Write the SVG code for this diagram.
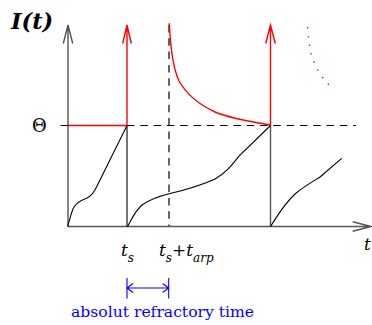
<svg xmlns="http://www.w3.org/2000/svg" width="372" height="325" viewBox="0 0 372 325">
<style>
.ax{stroke:#555;stroke-width:1.4;fill:none}
.blk{stroke:#000;stroke-width:1.1;fill:none}
.red{stroke:#f00;stroke-width:1.4;fill:none}
.dash{stroke:#000;stroke-width:1.2;fill:none;stroke-dasharray:7.5 5.8}
.blue{stroke:#00f;stroke-width:1.1;fill:none}
</style>
<rect width="372" height="325" fill="#fff"/>
<g id="axes">
<path class="ax" d="M68 226.5V25M63.3 43.5L68 25L72.7 43.5"/>
<path class="ax" d="M68 226.5H371M352.7 221.7L371 226.5L352.7 231.3"/>
</g>
<g id="connectors">
<path class="dash" d="M60.5 125.5H356"/>
<path class="dash" d="M169 25V226"/>
<path class="blk" d="M127 125.5V226.5"/>
<path class="ax" d="M270.5 125.5V226.5"/>
<path class="red" d="M68 125.5H127V25M122.7 43.5L127 25L131.3 43.5"/>
<path class="red" d="M270.5 125.5V25M265.7 43.5L270.5 25L275.3 43.5"/>
<path class="red" d="M169.3 23.3C170.5 50 173 68 179 81C187 95 200 105 215 112C232 119 252 122 270.5 125"/>
<path class="red" stroke-dasharray="1.3 7.5" d="M307.7 27C308.5 40 310 52 313 60C317 70 323 79 330 86"/>
<path class="blk" d="M67.5 226.5C70 220 71 212 74 207C77 202 82 200 87 198C91 196 94 193 97 186L127 125.5"/>
<path class="blk" d="M127.5 226.5C131 221 134 212 142 205C150 199 160 196 170 193.5C185 190 200 186 215 179C226 173 232 165 240 155L270.5 125.5"/>
<path class="blk" d="M270.5 226.5C276 218 284 204 295 194C303 187 312 182 320 177L341.7 158.3"/>
</g>
<g id="labels">
<text x="11" y="29" font-family="DejaVu Serif, serif" font-size="22.5" font-style="italic" font-weight="bold">I(t)</text>
<text x="32" y="132" font-family="DejaVu Serif, serif" font-size="18">Θ</text>
<text x="121" y="256" font-family="DejaVu Serif, serif" font-size="17" font-style="italic">t<tspan font-size="12" dy="6">s</tspan></text>
<text x="159" y="256" font-family="DejaVu Serif, serif" font-size="17" font-style="italic">t<tspan font-size="12" dy="6">s</tspan><tspan font-style="normal" dy="-6">+</tspan>t<tspan font-size="12" dy="6">arp</tspan></text>
<text x="364" y="250" font-family="DejaVu Serif, serif" font-size="17" font-style="italic">t</text>
</g>
<g id="refractory">
<path class="blue" d="M127 278V298.5M168.7 278V298.5M127 288H168.7M133 283.5L127 288L133 292.5M162.7 283.5L168.7 288L162.7 292.5"/>
<text x="71" y="317" font-family="DejaVu Serif, serif" font-size="15.6" fill="#00f">absolut refractory time</text>
</g>
</svg>
